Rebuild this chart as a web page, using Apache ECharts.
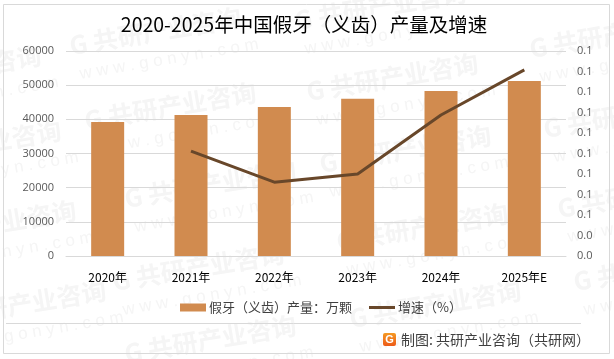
<!DOCTYPE html>
<html><head><meta charset="utf-8">
<style>html,body{margin:0;padding:0;background:#fff}#c{width:614px;height:359px}</style>
<script src="https://cdn.jsdelivr.net/npm/echarts@6/dist/echarts.min.js"></script>
</head><body><div id="c"></div>
<script>
const categories = ['2020年','2021年','2022年','2023年','2024年','2025年E'];
const outputValues = [39200,41300,43600,46000,48300,51200];
const growthValues = [null,0.0656,0.058,0.06,0.0744,0.0854];
const rightTickLabels = ['0.0','0.0','0.1','0.1','0.1','0.1','0.1','0.1','0.1','0.1','0.1'];
const wmFont = '"Noto Sans CJK SC"';
const wmSpots = [[70,47],[85,122],[-130,85],[-110,160],[125,200],[-95,240],[113,283],[-65,320],[125,355],[307,93],[295,22],[530,50],[544,130],[320,165],[337,243],[350,320],[558,210],[574,283]];
const watermarks = [];
wmSpots.forEach(function(p){
  watermarks.push({type:'group',x:p[0],y:p[1],rotation:0.166,silent:true,z:0,children:[
    {type:'text',style:{x:0,y:-14,text:'G 共研产业咨询',font:'bold 25px '+wmFont,fill:'#f5f5f5'}},
    {type:'text',style:{x:5,y:20,text:'w w w . g o n y n . c o m',font:'17px "Liberation Sans"',fill:'#f5f5f5'}}
  ]});
});
const chart = echarts.init(document.getElementById('c'));
chart.setOption({
  animation:false,
  backgroundColor:'#fff',
  title:{text:'2020-2025年中国假牙（义齿）产量及增速',left:299,top:10,textAlign:'center',
    textStyle:{fontFamily:'"Noto Sans CJK SC"',fontSize:19.5,fontWeight:'normal',color:'#000'}},
  grid:{left:66,right:48,top:51,bottom:103},
  legend:{top:296,left:175,itemGap:17,selectedMode:false,itemHeight:8,itemWidth:26,
    textStyle:{fontFamily:'"Noto Sans CJK SC"',fontSize:13,color:'#404040',padding:[0,0,0,-2]},
    data:[{name:'假牙（义齿）产量：万颗',icon:'rect'},{name:'增速（%）',icon:'path://M0 0H26V3H0Z',itemHeight:3}]},
  xAxis:{type:'category',data:categories,axisTick:{show:false},
    axisLine:{lineStyle:{color:'#d9d9d9'}},
    axisLabel:{margin:15,fontSize:12,color:'#000',fontFamily:'"Noto Sans CJK SC"'}},
  yAxis:[
    {type:'value',min:0,max:60000,interval:10000,axisLine:{show:false},axisTick:{show:false},
     splitLine:{lineStyle:{color:'#d9d9d9'}},
     axisLabel:{margin:12,fontSize:11,color:'#595959',fontFamily:'"Open Sans"',formatter:function(v){return String(v);}}},
    {type:'value',min:0.04,max:0.09,interval:0.005,axisLine:{show:false},axisTick:{show:false},splitLine:{show:false},
     axisLabel:{margin:11,fontSize:11,color:'#595959',fontFamily:'"Open Sans"',
       formatter:function(v,i){return rightTickLabels[i];}}}
  ],
  series:[
    {name:'假牙（义齿）产量：万颗',type:'bar',data:outputValues,barWidth:33,itemStyle:{color:'#d18b4f'},z:2},
    {name:'增速（%）',type:'line',yAxisIndex:1,data:growthValues,symbol:'none',smooth:false,z:3,
     lineStyle:{color:'#68472a',width:3},itemStyle:{color:'#68472a'}}
  ],
  graphic:{elements:watermarks.concat([
    {type:'rect',silent:true,z:1,shape:{x:3.5,y:4.5,width:606,height:349},style:{fill:'none',stroke:'#d9d9d9',lineWidth:1}},
    {type:'line',silent:true,z:1,shape:{x1:6,y1:323.5,x2:581,y2:323.5},style:{stroke:'#d9d9d9',lineWidth:1}},
    {type:'rect',silent:true,z:5,shape:{x:383,y:333,width:13,height:13,r:2},
      style:{fill:{type:'linear',x:0,y:0,x2:0,y2:1,colorStops:[{offset:0,color:'#f59a23'},{offset:1,color:'#ec5a18'}]}}},
    {type:'text',silent:true,z:6,style:{x:389.5,y:339.5,text:'G',align:'center',verticalAlign:'middle',font:'bold 11px "Liberation Sans"',fill:'#fff'}},
    {type:'text',silent:true,z:5,style:{x:401,y:340,text:'制图: 共研产业咨询（共研网）',verticalAlign:'middle',font:'14px "Noto Sans CJK SC"',fill:'#404040'}}
  ])}
});
</script></body></html>
